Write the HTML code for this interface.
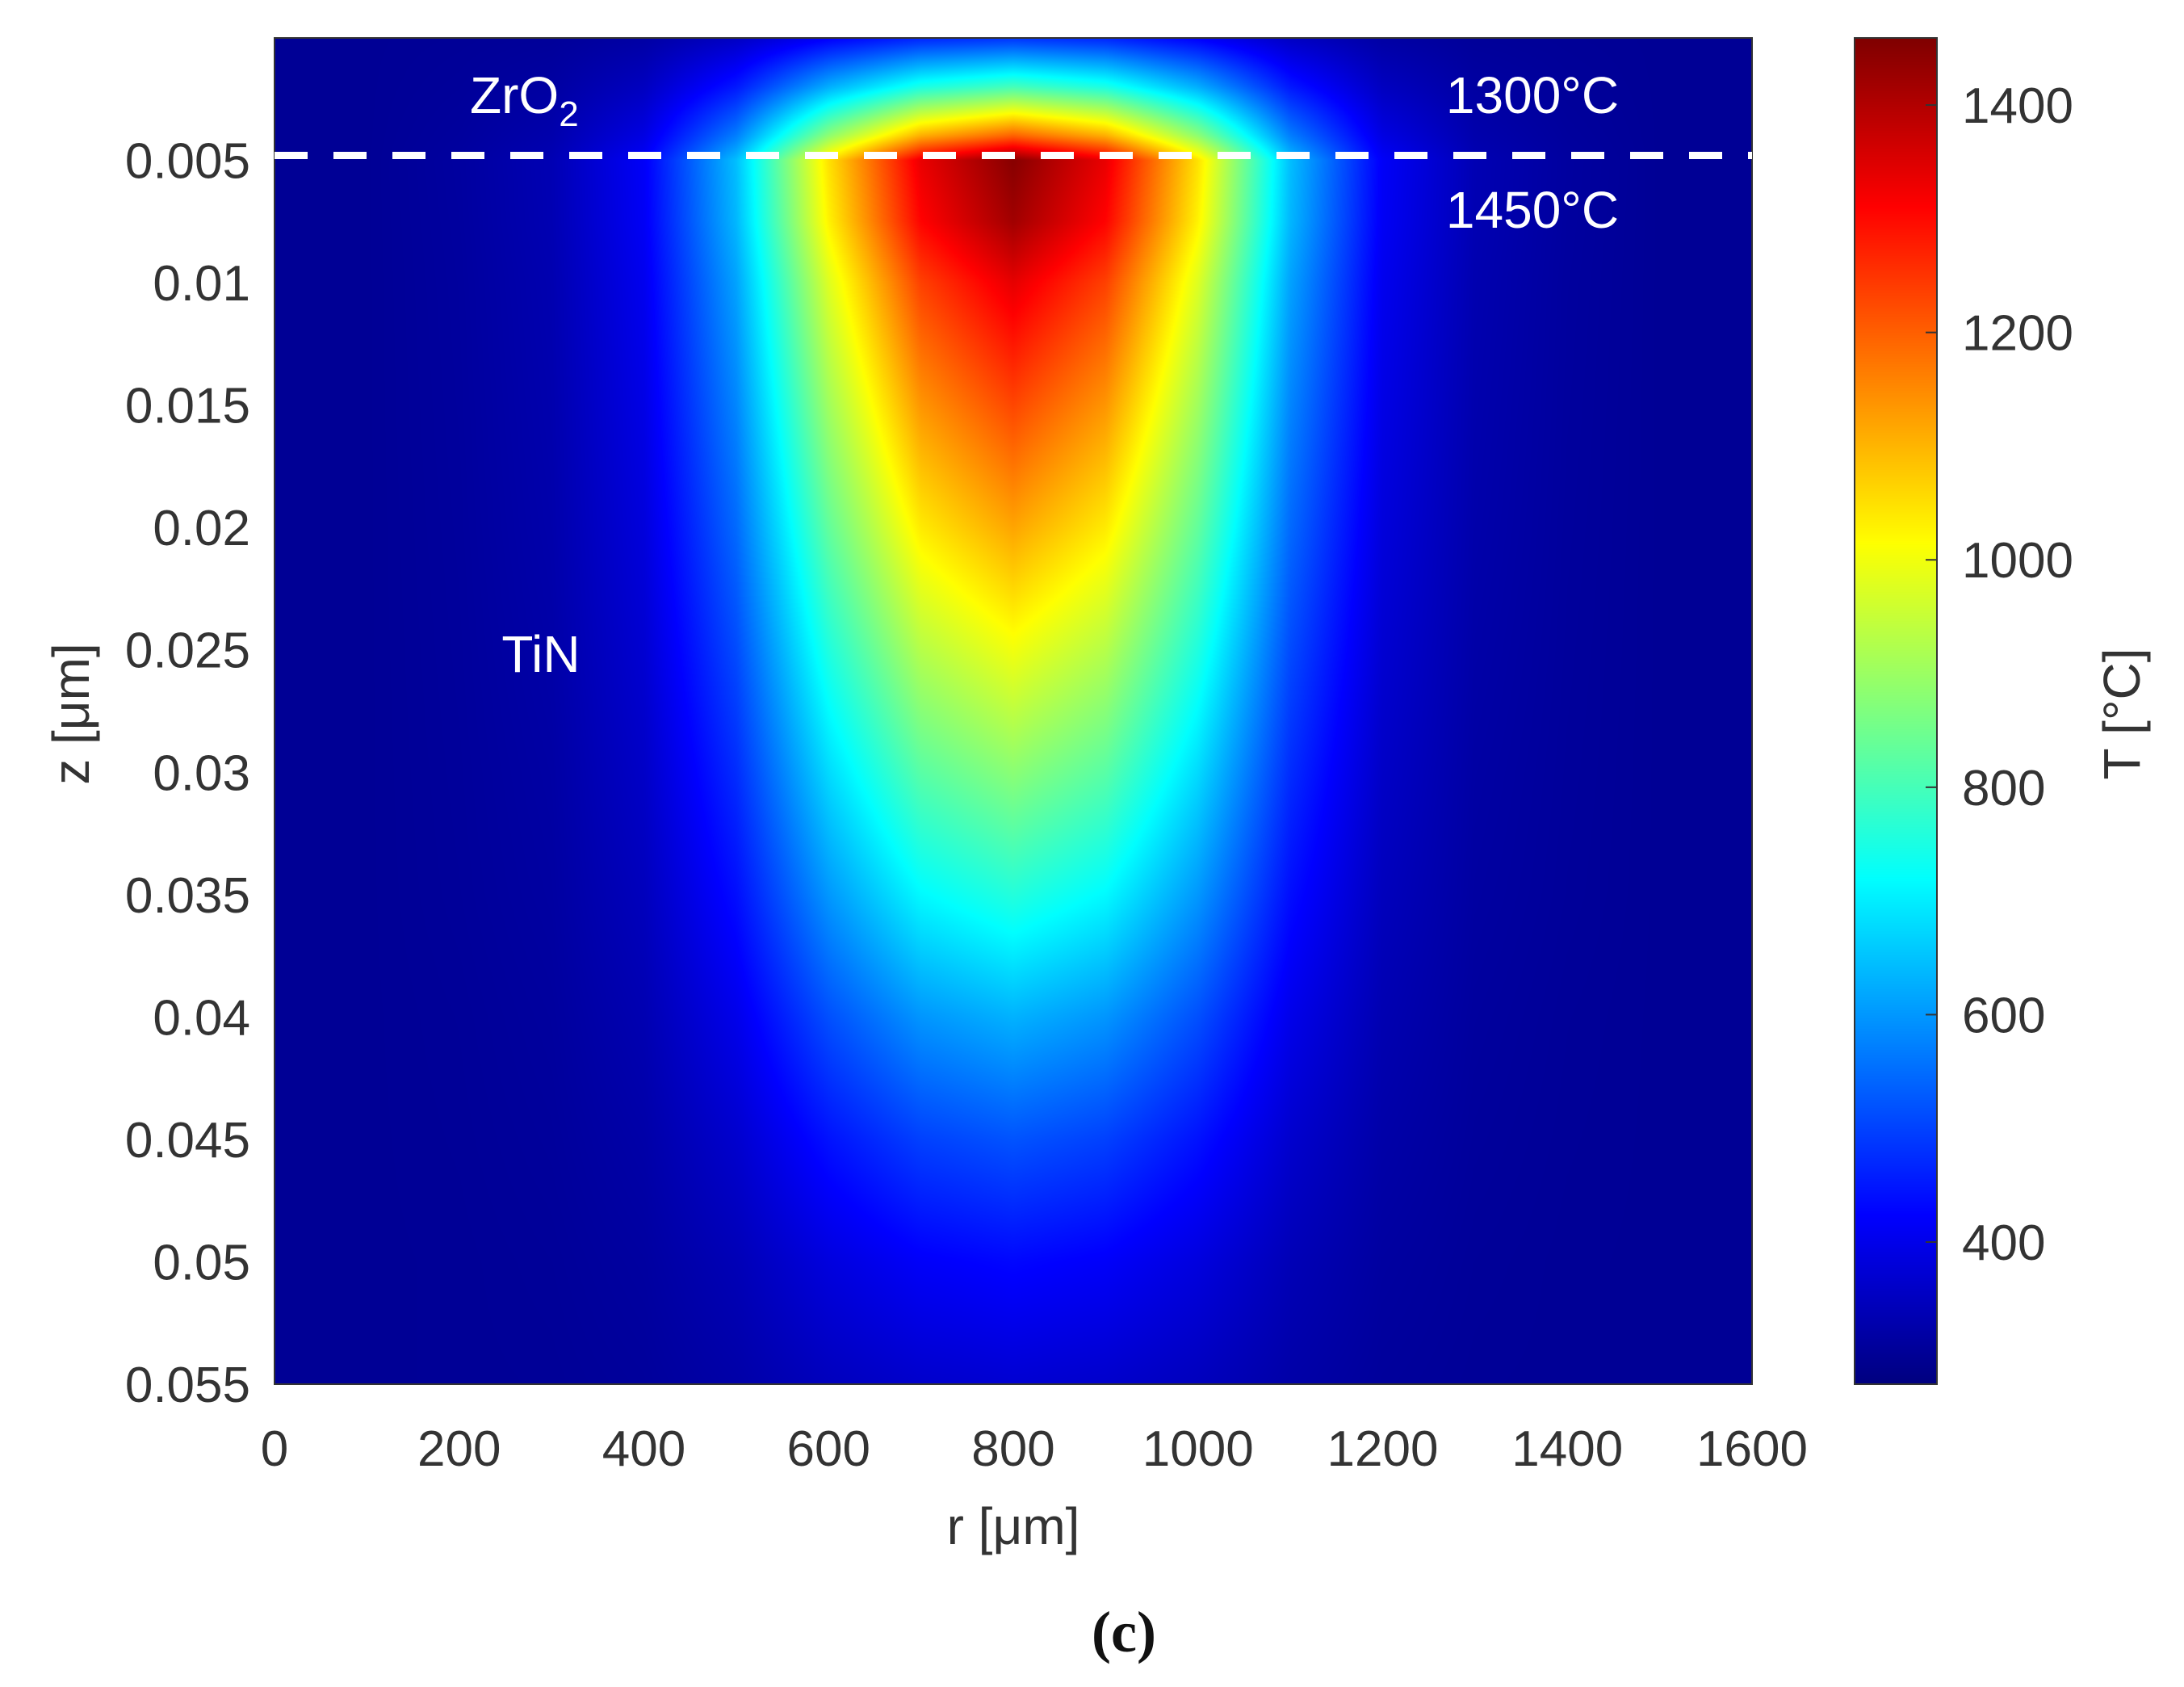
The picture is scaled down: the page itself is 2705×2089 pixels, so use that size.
<!DOCTYPE html>
<html><head><meta charset="utf-8">
<style>
html,body{margin:0;padding:0;background:#fff;}
#wrap{position:relative;width:2705px;height:2089px;overflow:hidden;font-family:"Liberation Sans",sans-serif;}
canvas{position:absolute;}
svg{position:absolute;left:0;top:0;}
</style></head>
<body>
<div id="wrap">
<canvas id="heat" style="left:340px;top:47px" width="1830" height="1667"></canvas>
<canvas id="cbar" style="left:2297px;top:47px" width="102" height="1667"></canvas>
<svg id="ov" width="2705" height="2089"></svg>
</div>
<script>
// ---- data ----
const rGrid = [0,100,200,300,400,500,600,700,800,900,1000,1100,1200,1300,1400,1500,1600];
const zGrid = [0,0.002,0.004,0.005,0.0075,0.01,0.015,0.02,0.025,0.03,0.035,0.04,0.045,0.05,0.055];
const tempRows = [
 [300,300,302,305,318,354,417,462,480,462,417,354,318,305,302,300,300],
 [300,300,305,315,350,450,625,750,800,750,625,450,350,315,305,300,300],
 [300,300,309,327,390,570,885,1110,1200,1110,885,570,390,327,309,300,300],
 [300,300,312,335,415,645,1048,1335,1450,1335,1048,645,415,335,312,300,300],
 [300,300,311,334,412,636,1028,1308,1420,1308,1028,636,412,334,311,300,300],
 [300,300,310,331,404,612,976,1236,1340,1236,976,612,404,331,310,300,300],
 [300,300,309,328,393,579,905,1137,1230,1137,905,579,393,328,309,300,300],
 [300,300,308,325,382,546,833,1038,1120,1038,833,546,382,325,308,300,300],
 [300,300,307,321,370,510,755,930,1000,930,755,510,370,321,307,300,300],
 [300,300,306,317,358,474,677,822,880,822,677,474,358,317,306,300,300],
 [300,300,305,314,346,438,599,714,760,714,599,438,346,314,305,300,300],
 [300,300,303,310,333,399,515,597,630,597,515,399,333,310,303,300,300],
 [300,300,302,307,322,366,443,498,520,498,443,366,322,307,302,300,300],
 [300,300,301,304,313,339,385,417,430,417,385,339,313,304,301,300,300],
 [300,300,301,302,307,321,346,363,370,363,346,321,307,302,301,300,300]
];
const xTicks = [0,200,400,600,800,1000,1200,1400,1600];
const yTicks = [0.005,0.01,0.015,0.02,0.025,0.03,0.035,0.04,0.045,0.05,0.055];
const yTickLabels = ["0.005","0.01","0.015","0.02","0.025","0.03","0.035","0.04","0.045","0.05","0.055"];
const cTicks = [400,600,800,1000,1200,1400];
const cMin = 275, cMax = 1459;
const interfaceZ = 0.0048;

// ---- axes ----
const PL=340, PR=2170, PT=47, PB=1714;
const rMin=0, rMax=1600, zMin=0, zMax=0.055;
const xs = r => PL + (r-rMin)/(rMax-rMin)*(PR-PL);
const ys = z => PT + (z-zMin)/(zMax-zMin)*(PB-PT);
const CT=47, CB=1714, CX=2297, CW=102;
const cs = t => CB - (t-cMin)/(cMax-cMin)*(CB-CT);

function jet(v){
  let t=(v-cMin)/(cMax-cMin); t=Math.max(0,Math.min(1,t));
  const c=x=>Math.max(0,Math.min(1,x));
  return [c(1.5-Math.abs(4*t-3))*255, c(1.5-Math.abs(4*t-2))*255, c(1.5-Math.abs(4*t-1))*255];
}
function interp(r,z){
  let i=0; while(i<rGrid.length-2 && r>rGrid[i+1]) i++;
  let j=0; while(j<zGrid.length-2 && z>zGrid[j+1]) j++;
  const fr=Math.max(0,Math.min(1,(r-rGrid[i])/(rGrid[i+1]-rGrid[i])));
  const fz=Math.max(0,Math.min(1,(z-zGrid[j])/(zGrid[j+1]-zGrid[j])));
  const a=tempRows[j][i]*(1-fr)+tempRows[j][i+1]*fr;
  const b=tempRows[j+1][i]*(1-fr)+tempRows[j+1][i+1]*fr;
  return a*(1-fz)+b*fz;
}
(function(){
  const cv=document.getElementById('heat'), ctx=cv.getContext('2d');
  const W=cv.width,H=cv.height, img=ctx.createImageData(W,H), d=img.data;
  for(let y=0;y<H;y++){
    const z=zMin+(y+0.5)/H*(zMax-zMin);
    for(let x=0;x<W;x++){
      const r=rMin+(x+0.5)/W*(rMax-rMin);
      const c=jet(interp(r,z)); const k=(y*W+x)*4;
      d[k]=c[0];d[k+1]=c[1];d[k+2]=c[2];d[k+3]=255;
    }
  }
  ctx.putImageData(img,0,0);
})();
(function(){
  const cv=document.getElementById('cbar'), ctx=cv.getContext('2d');
  for(let y=0;y<cv.height;y++){
    const v=cMax-(y+0.5)/cv.height*(cMax-cMin); const c=jet(v);
    ctx.fillStyle=`rgb(${c[0]|0},${c[1]|0},${c[2]|0})`; ctx.fillRect(0,y,cv.width,1);
  }
})();
const NS='http://www.w3.org/2000/svg', ov=document.getElementById('ov');
function mk(tag,attrs,txt){const e=document.createElementNS(NS,tag);for(const k in attrs)e.setAttribute(k,attrs[k]);if(txt!==undefined)e.textContent=txt;ov.appendChild(e);return e;}
let e;
e=mk('rect',{x:PL,y:PT,width:PR-PL,height:PB-PT,fill:'none',stroke:'#333','stroke-width':2});


e=mk('rect',{x:CX,y:CT,width:CW,height:CB-CT,fill:'none',stroke:'#333','stroke-width':2});


e=mk('line',{x1:PL,x2:PR,y1:ys(interfaceZ),y2:ys(interfaceZ),stroke:'#fff','stroke-width':9,'stroke-dasharray':'41 32'});


xTicks.forEach(v=>{
  const t=mk('text',{x:xs(v),y:1815,'font-size':62,fill:'#333','text-anchor':'middle'},String(v));
  
  
});
yTicks.forEach((v,i)=>{
  const t=mk('text',{x:310,y:ys(v)+22,'font-size':62,fill:'#333','text-anchor':'end'},yTickLabels[i]);
  
  
});
cTicks.forEach(v=>{
  const t=mk('text',{x:2430,y:cs(v)+22,'font-size':62,fill:'#333'},String(v));
  
  
  const l=mk('line',{x1:CX+CW-14,x2:CX+CW,y1:cs(v),y2:cs(v),stroke:'#333','stroke-width':2});
  
  
});
e=mk('text',{x:1255,y:1912,'font-size':64,fill:'#333','text-anchor':'middle'},'r [μm]');


e=mk('text',{x:0,y:0,'font-size':64,fill:'#333','text-anchor':'middle',transform:'translate(110,884) rotate(-90)'},'z [μm]');


e=mk('text',{x:0,y:0,'font-size':64,fill:'#333','text-anchor':'middle',transform:'translate(2650,884) rotate(-90)'},'T [°C]');


e=mk('text',{x:1392,y:2045,'font-size':72,'font-weight':'bold',fill:'#111','text-anchor':'middle','font-family':'Liberation Serif, serif'},'(c)');


const ann=mk('text',{x:582,y:140,'font-size':64,fill:'#fff'});


const s1=document.createElementNS(NS,'tspan');s1.textContent='ZrO';ann.appendChild(s1);
const s2=document.createElementNS(NS,'tspan');s2.setAttribute('font-size','44');s2.setAttribute('dy','16');s2.textContent='2';ann.appendChild(s2);
e=mk('text',{x:1898,y:140,'font-size':64,fill:'#fff','text-anchor':'middle'},'1300°C');


e=mk('text',{x:1898,y:282,'font-size':64,fill:'#fff','text-anchor':'middle'},'1450°C');


e=mk('text',{x:670,y:832,'font-size':64,fill:'#fff','text-anchor':'middle'},'TiN');


</script>
</body></html>
